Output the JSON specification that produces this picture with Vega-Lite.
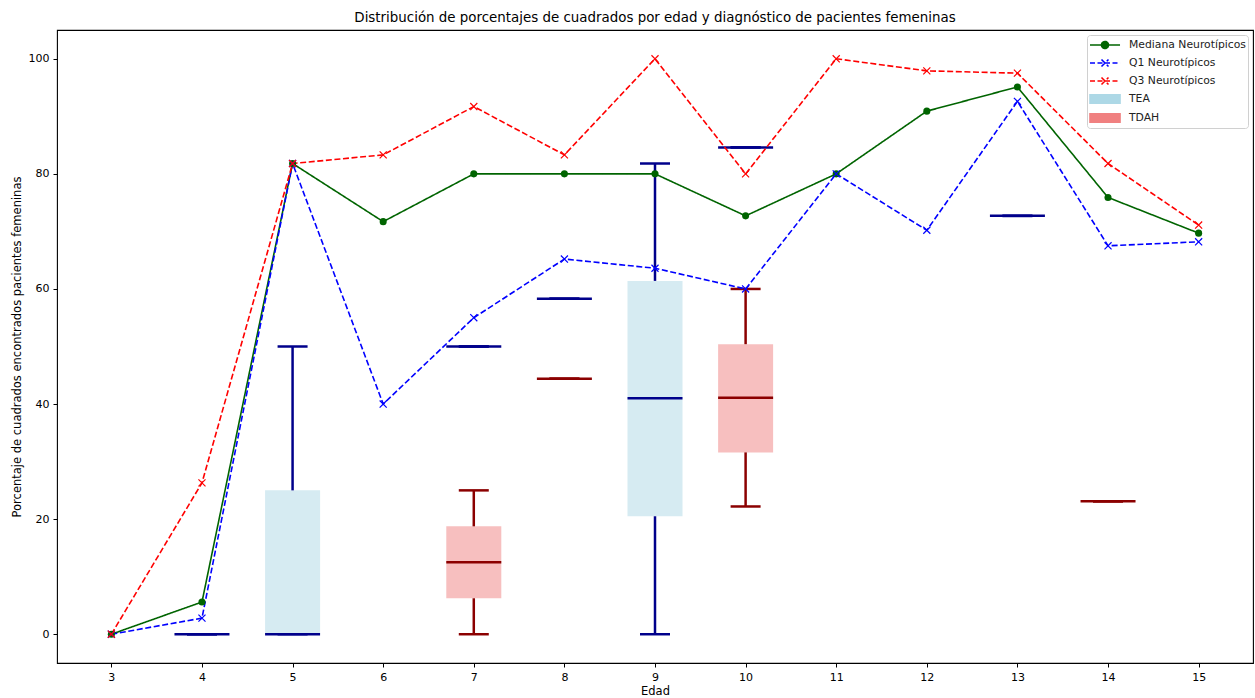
{
  "$schema": "https://vega.github.io/schema/vega-lite/v6.json",
  "width": 1196,
  "height": 633,
  "autosize": {"type": "none"},
  "padding": {"left": 57, "top": 30, "right": 2, "bottom": 35},
  "background": "white",
  "title": {
    "text": "Distribución de porcentajes de cuadrados por edad y diagnóstico de pacientes femeninas",
    "font": "DejaVu Sans",
    "fontSize": 13.4,
    "fontWeight": "normal",
    "color": "#000000",
    "anchor": "middle",
    "frame": "group",
    "offset": 6
  },
  "datasets": {
    "neuro": [
      {"edad": 3, "serie": "Mediana Neurotípicos", "valor": 0},
      {"edad": 4, "serie": "Mediana Neurotípicos", "valor": 5.6},
      {"edad": 5, "serie": "Mediana Neurotípicos", "valor": 81.8},
      {"edad": 6, "serie": "Mediana Neurotípicos", "valor": 71.7},
      {"edad": 7, "serie": "Mediana Neurotípicos", "valor": 80},
      {"edad": 8, "serie": "Mediana Neurotípicos", "valor": 80},
      {"edad": 9, "serie": "Mediana Neurotípicos", "valor": 80},
      {"edad": 10, "serie": "Mediana Neurotípicos", "valor": 72.7},
      {"edad": 11, "serie": "Mediana Neurotípicos", "valor": 80},
      {"edad": 12, "serie": "Mediana Neurotípicos", "valor": 90.9},
      {"edad": 13, "serie": "Mediana Neurotípicos", "valor": 95.1},
      {"edad": 14, "serie": "Mediana Neurotípicos", "valor": 75.9},
      {"edad": 15, "serie": "Mediana Neurotípicos", "valor": 69.7},
      {"edad": 3, "serie": "Q1 Neurotípicos", "valor": 0},
      {"edad": 4, "serie": "Q1 Neurotípicos", "valor": 2.8},
      {"edad": 5, "serie": "Q1 Neurotípicos", "valor": 81.8},
      {"edad": 6, "serie": "Q1 Neurotípicos", "valor": 40},
      {"edad": 7, "serie": "Q1 Neurotípicos", "valor": 55},
      {"edad": 8, "serie": "Q1 Neurotípicos", "valor": 65.2},
      {"edad": 9, "serie": "Q1 Neurotípicos", "valor": 63.6},
      {"edad": 10, "serie": "Q1 Neurotípicos", "valor": 60},
      {"edad": 11, "serie": "Q1 Neurotípicos", "valor": 80},
      {"edad": 12, "serie": "Q1 Neurotípicos", "valor": 70.2},
      {"edad": 13, "serie": "Q1 Neurotípicos", "valor": 92.6},
      {"edad": 14, "serie": "Q1 Neurotípicos", "valor": 67.5},
      {"edad": 15, "serie": "Q1 Neurotípicos", "valor": 68.2},
      {"edad": 3, "serie": "Q3 Neurotípicos", "valor": 0},
      {"edad": 4, "serie": "Q3 Neurotípicos", "valor": 26.3},
      {"edad": 5, "serie": "Q3 Neurotípicos", "valor": 81.8},
      {"edad": 6, "serie": "Q3 Neurotípicos", "valor": 83.3},
      {"edad": 7, "serie": "Q3 Neurotípicos", "valor": 91.7},
      {"edad": 8, "serie": "Q3 Neurotípicos", "valor": 83.3},
      {"edad": 9, "serie": "Q3 Neurotípicos", "valor": 100},
      {"edad": 10, "serie": "Q3 Neurotípicos", "valor": 80},
      {"edad": 11, "serie": "Q3 Neurotípicos", "valor": 100},
      {"edad": 12, "serie": "Q3 Neurotípicos", "valor": 97.9},
      {"edad": 13, "serie": "Q3 Neurotípicos", "valor": 97.5},
      {"edad": 14, "serie": "Q3 Neurotípicos", "valor": 81.8},
      {"edad": 15, "serie": "Q3 Neurotípicos", "valor": 71.1}
    ],
    "cajas": [
      {"edad": 4, "serie": "TEA", "minimo": 0, "q1": 0, "mediana": 0, "q3": 0, "maximo": 0},
      {"edad": 5, "serie": "TEA", "minimo": 0, "q1": 0, "mediana": 0, "q3": 25, "maximo": 50},
      {"edad": 7, "serie": "TEA", "minimo": 50, "q1": 50, "mediana": 50, "q3": 50, "maximo": 50},
      {"edad": 8, "serie": "TEA", "minimo": 58.3, "q1": 58.3, "mediana": 58.3, "q3": 58.3, "maximo": 58.3},
      {"edad": 9, "serie": "TEA", "minimo": 0, "q1": 20.5, "mediana": 41, "q3": 61.4, "maximo": 81.8},
      {"edad": 10, "serie": "TEA", "minimo": 84.6, "q1": 84.6, "mediana": 84.6, "q3": 84.6, "maximo": 84.6},
      {"edad": 13, "serie": "TEA", "minimo": 72.7, "q1": 72.7, "mediana": 72.7, "q3": 72.7, "maximo": 72.7},
      {"edad": 7, "serie": "TDAH", "minimo": 0, "q1": 6.25, "mediana": 12.5, "q3": 18.75, "maximo": 25},
      {"edad": 8, "serie": "TDAH", "minimo": 44.4, "q1": 44.4, "mediana": 44.4, "q3": 44.4, "maximo": 44.4},
      {"edad": 10, "serie": "TDAH", "minimo": 22.2, "q1": 31.6, "mediana": 41.1, "q3": 50.4, "maximo": 60},
      {"edad": 14, "serie": "TDAH", "minimo": 23.1, "q1": 23.1, "mediana": 23.1, "q3": 23.1, "maximo": 23.1}
    ]
  },
  "encoding": {
    "x": {
      "field": "edad",
      "type": "quantitative",
      "title": "Edad",
      "scale": {"domain": [2.4, 15.6], "nice": false, "zero": false, "padding": 0},
      "axis": {"values": [3, 4, 5, 6, 7, 8, 9, 10, 11, 12, 13, 14, 15], "format": "d"}
    }
  },
  "layer": [
    {
      "data": {"name": "cajas"},
      "mark": {"type": "bar", "width": 55, "opacity": 0.5},
      "encoding": {
        "y": {
          "field": "q1",
          "type": "quantitative",
          "title": "Porcentaje de cuadrados encontrados pacientes femeninas",
          "scale": {"domain": [-5, 105], "nice": false, "zero": false, "padding": 0},
          "axis": {"values": [0, 20, 40, 60, 80, 100]}
        },
        "y2": {"field": "q3"},
        "color": {
          "field": "serie",
          "type": "nominal",
          "scale": {
            "domain": ["Mediana Neurotípicos", "Q1 Neurotípicos", "Q3 Neurotípicos", "TEA", "TDAH"],
            "range": ["#006400", "#0000ff", "#ff0000", "#add8e6", "#f08080"]
          },
          "legend": {
            "title": null,
            "orient": "top-right",
            "offset": 5,
            "padding": 2,
            "strokeColor": "#d0d0d0",
            "fillColor": "white",
            "cornerRadius": 3,
            "symbolSize": 196,
            "labelFont": "DejaVu Sans",
            "labelFontSize": 10.8,
            "labelColor": "#222222",
            "labelOffset": 24,
            "rowPadding": 3,
            "encode": {
              "symbols": {
                "update": {
                  "shape": {"signal": "datum.value == 'TEA' || datum.value == 'TDAH' ? 'M-1,-0.6H3.29V0.6H-1Z' : (datum.value == 'Mediana Neurotípicos' ? 'M-1,0H3.29M1.64,0A0.5,0.5,0,1,1,0.64,0A0.5,0.5,0,1,1,1.64,0Z' : 'M-1,0H3.29M0.64,-0.5L1.64,0.5M0.64,0.5L1.64,-0.5')"},
                  "fill": {"signal": "datum.value == 'Mediana Neurotípicos' ? '#006400' : (datum.value == 'TEA' ? '#add8e6' : (datum.value == 'TDAH' ? '#f08080' : 'transparent'))"},
                  "stroke": {"signal": "datum.value == 'Mediana Neurotípicos' ? '#006400' : (datum.value == 'Q1 Neurotípicos' ? '#0000ff' : (datum.value == 'Q3 Neurotípicos' ? '#ff0000' : 'transparent'))"},
                  "strokeDash": {"signal": "datum.value == 'Q1 Neurotípicos' || datum.value == 'Q3 Neurotípicos' ? [5, 2.5] : [1, 0]"},
                  "strokeWidth": {"value": 1.6},
                  "opacity": {"value": 1},
                  "fillOpacity": {"value": 1},
                  "strokeOpacity": {"value": 1}
                }
              }
            }
          }
        }
      }
    },
    {
      "data": {"name": "cajas"},
      "mark": {"type": "rule", "strokeWidth": 2.5},
      "encoding": {
        "y": {"field": "minimo", "type": "quantitative"},
        "y2": {"field": "q1"},
        "stroke": {"field": "serie", "type": "nominal", "scale": {"domain": ["TEA", "TDAH"], "range": ["#00008b", "#8b0000"]}, "legend": null}
      }
    },
    {
      "data": {"name": "cajas"},
      "mark": {"type": "rule", "strokeWidth": 2.5},
      "encoding": {
        "y": {"field": "q3", "type": "quantitative"},
        "y2": {"field": "maximo"},
        "stroke": {"field": "serie", "type": "nominal", "legend": null}
      }
    },
    {
      "data": {"name": "cajas"},
      "mark": {"type": "tick", "orient": "horizontal", "size": 30, "thickness": 2.5, "opacity": 1},
      "encoding": {
        "y": {"field": "minimo", "type": "quantitative"},
        "fill": {"field": "serie", "type": "nominal", "scale": {"domain": ["TEA", "TDAH"], "range": ["#00008b", "#8b0000"]}, "legend": null}
      }
    },
    {
      "data": {"name": "cajas"},
      "mark": {"type": "tick", "orient": "horizontal", "size": 30, "thickness": 2.5, "opacity": 1},
      "encoding": {
        "y": {"field": "maximo", "type": "quantitative"},
        "fill": {"field": "serie", "type": "nominal", "legend": null}
      }
    },
    {
      "data": {"name": "cajas"},
      "mark": {"type": "tick", "orient": "horizontal", "size": 55, "thickness": 2.5, "opacity": 1},
      "encoding": {
        "y": {"field": "mediana", "type": "quantitative"},
        "fill": {"field": "serie", "type": "nominal", "legend": null}
      }
    },
    {
      "data": {"name": "neuro"},
      "mark": {"type": "line", "strokeWidth": 1.6},
      "encoding": {
        "y": {"field": "valor", "type": "quantitative"},
        "color": {
          "field": "serie",
          "type": "nominal",
          "legend": {
            "title": null,
            "orient": "top-right",
            "offset": 5,
            "padding": 2,
            "strokeColor": "#d0d0d0",
            "fillColor": "white",
            "cornerRadius": 3,
            "symbolSize": 196,
            "labelFont": "DejaVu Sans",
            "labelFontSize": 10.8,
            "labelColor": "#222222",
            "labelOffset": 24,
            "rowPadding": 3,
            "encode": {
              "symbols": {
                "update": {
                  "shape": {"signal": "datum.value == 'TEA' || datum.value == 'TDAH' ? 'M-1,-0.6H3.29V0.6H-1Z' : (datum.value == 'Mediana Neurotípicos' ? 'M-1,0H3.29M1.64,0A0.5,0.5,0,1,1,0.64,0A0.5,0.5,0,1,1,1.64,0Z' : 'M-1,0H3.29M0.64,-0.5L1.64,0.5M0.64,0.5L1.64,-0.5')"},
                  "fill": {"signal": "datum.value == 'Mediana Neurotípicos' ? '#006400' : (datum.value == 'TEA' ? '#add8e6' : (datum.value == 'TDAH' ? '#f08080' : 'transparent'))"},
                  "stroke": {"signal": "datum.value == 'Mediana Neurotípicos' ? '#006400' : (datum.value == 'Q1 Neurotípicos' ? '#0000ff' : (datum.value == 'Q3 Neurotípicos' ? '#ff0000' : 'transparent'))"},
                  "strokeDash": {"signal": "datum.value == 'Q1 Neurotípicos' || datum.value == 'Q3 Neurotípicos' ? [5, 2.5] : [1, 0]"},
                  "strokeWidth": {"value": 1.6},
                  "opacity": {"value": 1},
                  "fillOpacity": {"value": 1},
                  "strokeOpacity": {"value": 1}
                }
              }
            }
          }
        },
        "strokeDash": {
          "field": "serie",
          "type": "nominal",
          "scale": {"domain": ["Mediana Neurotípicos", "Q1 Neurotípicos", "Q3 Neurotípicos"], "range": [[1, 0], [6, 2.6], [6, 2.6]]},
          "legend": null
        }
      }
    },
    {
      "data": {"name": "neuro"},
      "transform": [{"filter": "datum.serie == 'Mediana Neurotípicos'"}],
      "mark": {"type": "point", "shape": "circle", "filled": true, "size": 50, "opacity": 1},
      "encoding": {
        "y": {"field": "valor", "type": "quantitative"},
        "color": {
          "field": "serie",
          "type": "nominal",
          "legend": {
            "title": null,
            "orient": "top-right",
            "offset": 5,
            "padding": 2,
            "strokeColor": "#d0d0d0",
            "fillColor": "white",
            "cornerRadius": 3,
            "symbolSize": 196,
            "labelFont": "DejaVu Sans",
            "labelFontSize": 10.8,
            "labelColor": "#222222",
            "labelOffset": 24,
            "rowPadding": 3,
            "encode": {
              "symbols": {
                "update": {
                  "shape": {"signal": "datum.value == 'TEA' || datum.value == 'TDAH' ? 'M-1,-0.6H3.29V0.6H-1Z' : (datum.value == 'Mediana Neurotípicos' ? 'M-1,0H3.29M1.64,0A0.5,0.5,0,1,1,0.64,0A0.5,0.5,0,1,1,1.64,0Z' : 'M-1,0H3.29M0.64,-0.5L1.64,0.5M0.64,0.5L1.64,-0.5')"},
                  "fill": {"signal": "datum.value == 'Mediana Neurotípicos' ? '#006400' : (datum.value == 'TEA' ? '#add8e6' : (datum.value == 'TDAH' ? '#f08080' : 'transparent'))"},
                  "stroke": {"signal": "datum.value == 'Mediana Neurotípicos' ? '#006400' : (datum.value == 'Q1 Neurotípicos' ? '#0000ff' : (datum.value == 'Q3 Neurotípicos' ? '#ff0000' : 'transparent'))"},
                  "strokeDash": {"signal": "datum.value == 'Q1 Neurotípicos' || datum.value == 'Q3 Neurotípicos' ? [5, 2.5] : [1, 0]"},
                  "strokeWidth": {"value": 1.6},
                  "opacity": {"value": 1},
                  "fillOpacity": {"value": 1},
                  "strokeOpacity": {"value": 1}
                }
              }
            }
          }
        }
      }
    },
    {
      "data": {"name": "neuro"},
      "transform": [{"filter": "datum.serie != 'Mediana Neurotípicos'"}],
      "mark": {"type": "point", "shape": "M-1,-1L1,1M-1,1L1,-1", "filled": false, "size": 50, "strokeWidth": 1.2, "opacity": 1},
      "encoding": {
        "y": {"field": "valor", "type": "quantitative"},
        "color": {
          "field": "serie",
          "type": "nominal",
          "legend": {
            "title": null,
            "orient": "top-right",
            "offset": 5,
            "padding": 2,
            "strokeColor": "#d0d0d0",
            "fillColor": "white",
            "cornerRadius": 3,
            "symbolSize": 196,
            "labelFont": "DejaVu Sans",
            "labelFontSize": 10.8,
            "labelColor": "#222222",
            "labelOffset": 24,
            "rowPadding": 3,
            "encode": {
              "symbols": {
                "update": {
                  "shape": {"signal": "datum.value == 'TEA' || datum.value == 'TDAH' ? 'M-1,-0.6H3.29V0.6H-1Z' : (datum.value == 'Mediana Neurotípicos' ? 'M-1,0H3.29M1.64,0A0.5,0.5,0,1,1,0.64,0A0.5,0.5,0,1,1,1.64,0Z' : 'M-1,0H3.29M0.64,-0.5L1.64,0.5M0.64,0.5L1.64,-0.5')"},
                  "fill": {"signal": "datum.value == 'Mediana Neurotípicos' ? '#006400' : (datum.value == 'TEA' ? '#add8e6' : (datum.value == 'TDAH' ? '#f08080' : 'transparent'))"},
                  "stroke": {"signal": "datum.value == 'Mediana Neurotípicos' ? '#006400' : (datum.value == 'Q1 Neurotípicos' ? '#0000ff' : (datum.value == 'Q3 Neurotípicos' ? '#ff0000' : 'transparent'))"},
                  "strokeDash": {"signal": "datum.value == 'Q1 Neurotípicos' || datum.value == 'Q3 Neurotípicos' ? [5, 2.5] : [1, 0]"},
                  "strokeWidth": {"value": 1.6},
                  "opacity": {"value": 1},
                  "fillOpacity": {"value": 1},
                  "strokeOpacity": {"value": 1}
                }
              }
            }
          }
        }
      }
    }
  ],
  "config": {
    "font": "DejaVu Sans",
    "view": {"stroke": "#000000", "strokeWidth": 1.1},
    "axis": {
      "domain": false,
      "grid": false,
      "tickColor": "#000000",
      "tickSize": 4,
      "tickWidth": 1,
      "labelFont": "DejaVu Sans",
      "labelFontSize": 11,
      "labelColor": "#000000",
      "labelPadding": 4,
      "titleFont": "DejaVu Sans",
      "titleFontSize": 11.5,
      "titleFontWeight": "normal",
      "titleColor": "#000000"
    },
    "axisX": {"titlePadding": 3},
    "axisY": {"titlePadding": 6}
  }
}
